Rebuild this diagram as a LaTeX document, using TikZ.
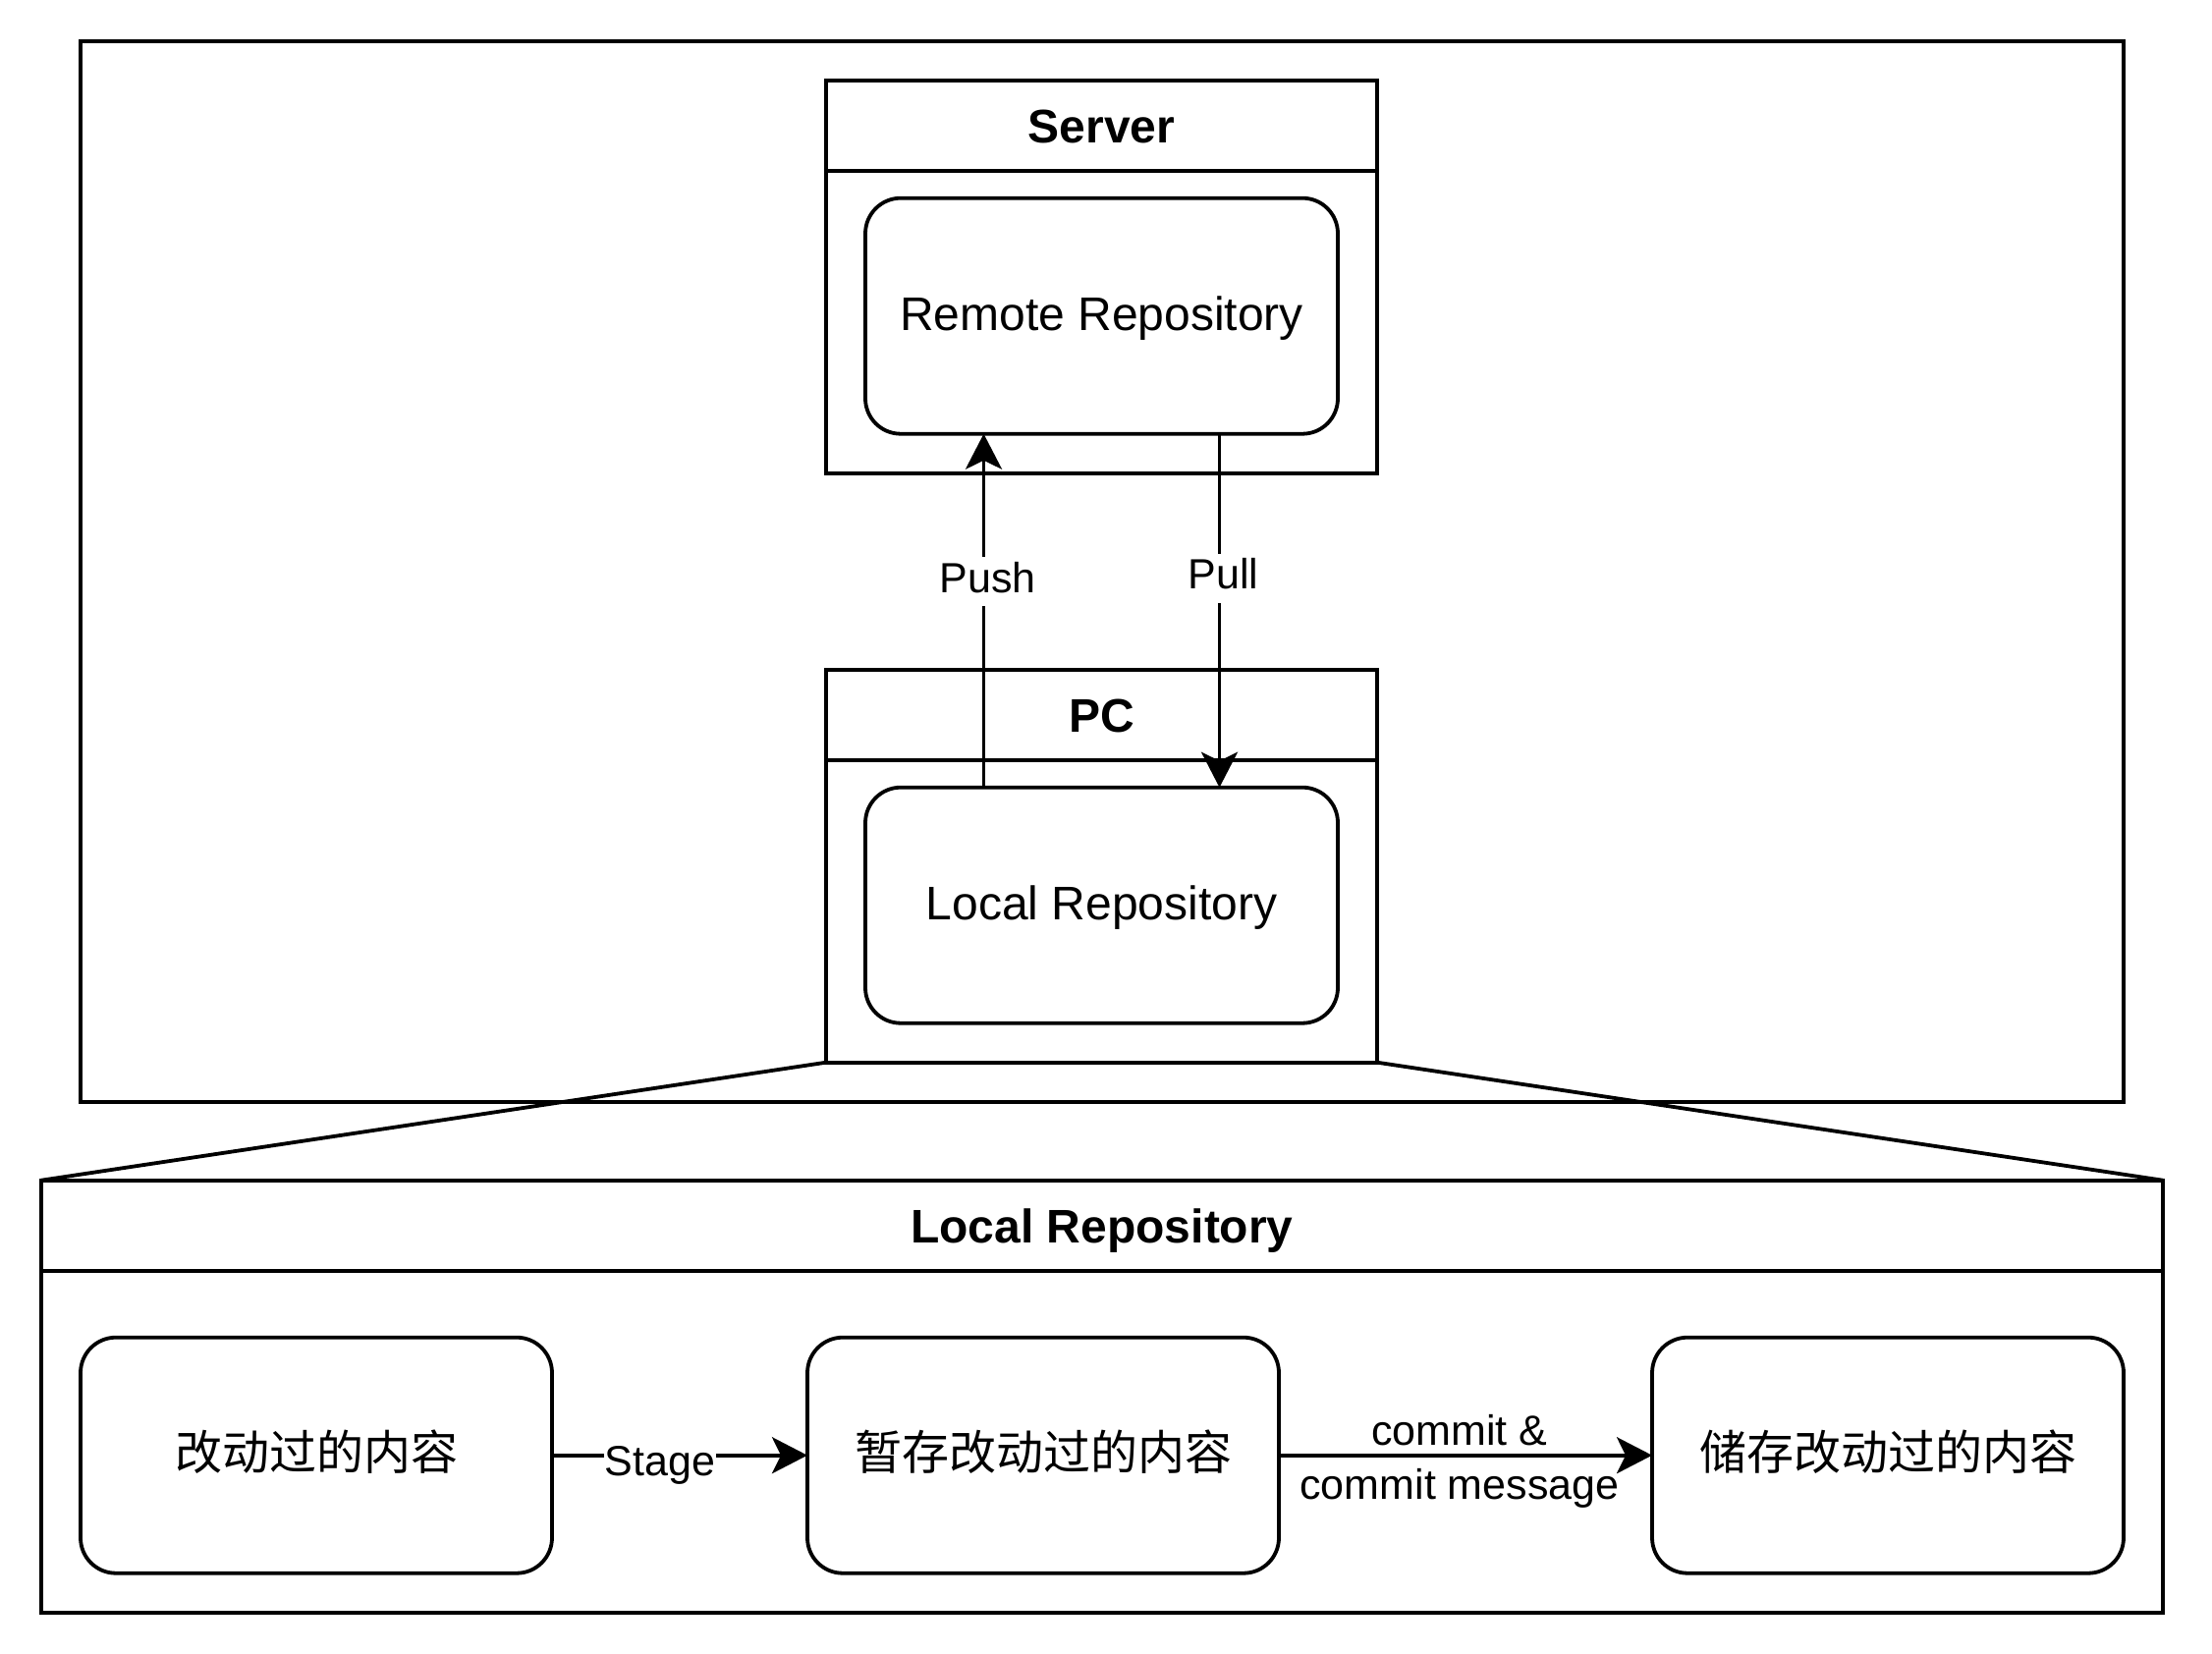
\documentclass[tikz,border=0pt]{standalone}
\usepackage{fontspec}
\setmainfont{Liberation Sans}
\newfontfamily\cjk{Noto Sans CJK SC}
\usetikzlibrary{arrows.meta}
\tikzset{
  frame/.style={draw, line width=3.8pt, rectangle, inner sep=0pt, outer sep=0pt},
  lane/.style={frame, minimum width=561pt, minimum height=400pt},
  repo/.style={frame, rounded corners=36pt, minimum width=481pt, minimum height=240pt,
    font=\fontsize{48}{58}\selectfont, text height=35pt, text depth=6pt},
  title/.style={font=\fontsize{48}{58}\selectfont\bfseries, anchor=base, inner sep=0pt},
  sepline/.style={line width=3.8pt},
  link/.style={line width=3.6pt, -{Stealth[length=36pt,width=37pt,inset=9pt]}},
  lbl/.style={font=\fontsize{43}{52}\selectfont, fill=white, inner sep=5pt, text height=31pt, text depth=9pt},
  mlbl/.style={font=\fontsize{43}{55}\selectfont, align=center, inner sep=0pt},
}
\begin{document}
\begin{tikzpicture}[x=1pt,y=-1pt]
\useasboundingbox (0,0) rectangle (2252,1684);
\fill[white] (0,0) rectangle (2252,1684);

% outer frame
\node[frame, minimum width=2080pt, minimum height=1079.7pt] (outer) at (1122,581.85) {};

% server lane
\node[lane] (server) at (1121.5,281.7) {};
\draw[sepline] ([yshift=-92.6pt]server.north west) -- ([yshift=-92.6pt]server.north east);
\node[title] (servert) at (1121.5,145) {Server};
\node[repo] (remote) at (1121.5,321.7) {Remote Repository};

% pc lane
\node[lane] (pc) at (1121.5,881.7) {};
\draw[sepline] ([yshift=-92.6pt]pc.north west) -- ([yshift=-92.6pt]pc.north east);
\node[title] (pct) at (1121.5,745) {PC};
\node[repo] (local) at (1121.5,921.7) {Local Repository};

% push / pull
\draw[link] ([xshift=-120pt]local.north) -- node[lbl, pos=0.582, xshift=4pt] {Push} ([xshift=-120pt]remote.south);
\draw[link] ([xshift=120pt]remote.south) -- node[lbl, pos=0.409, xshift=4pt] {Pull} ([xshift=120pt]local.north);

% detail box
\node[frame, minimum width=2160pt, minimum height=440pt] (detail) at (1122,1421.7) {};
\draw[sepline] ([yshift=-92.6pt]detail.north west) -- ([yshift=-92.6pt]detail.north east);
\node[title] (detailt) at (1122,1265) {Local Repository};
\draw[sepline] (pc.south west) -- (detail.north west);
\draw[sepline] (pc.south east) -- (detail.north east);

\node[repo, minimum width=480pt] (changed) at (322,1481.7) {\cjk 改动过的内容};
\node[repo, minimum width=480pt] (staged) at (1062,1481.7) {\cjk 暂存改动过的内容};
\node[repo, minimum width=480pt] (stored) at (1922,1481.7) {\cjk 储存改动过的内容};

\draw[link] (changed.east) -- node[lbl, inner xsep=1pt, pos=0.423, yshift=-10pt] {Stage} (staged.west);
\draw[link] (staged.east) -- node[mlbl, pos=0.484, yshift=-6pt] {commit \&\\commit message} (stored.west);
\end{tikzpicture}
\end{document}
